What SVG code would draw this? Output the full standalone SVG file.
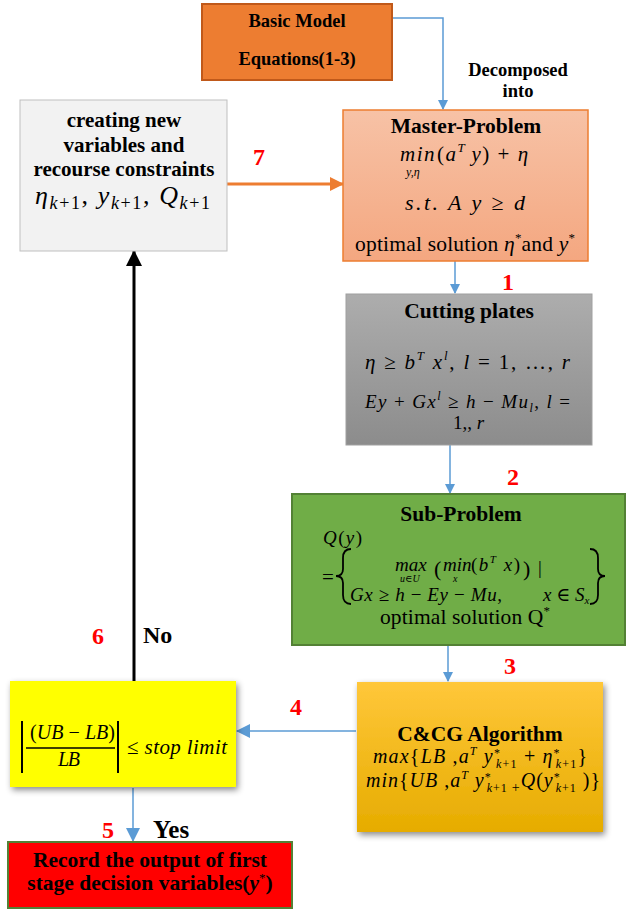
<svg xmlns="http://www.w3.org/2000/svg" width="627" height="910" viewBox="0 0 627 910">
<defs>
<linearGradient id="gMaster" x1="0" y1="0" x2="0" y2="1"><stop offset="0" stop-color="#F7C2A6"/><stop offset="1" stop-color="#F4A780"/></linearGradient>
<linearGradient id="gCut" x1="0" y1="0" x2="0" y2="1"><stop offset="0" stop-color="#ADADAD"/><stop offset="1" stop-color="#8C8C8C"/></linearGradient>
<linearGradient id="gCCG" x1="0" y1="0" x2="0" y2="1"><stop offset="0" stop-color="#FFC73A"/><stop offset="1" stop-color="#E6AC00"/></linearGradient>
<filter id="shadow" x="-10%" y="-10%" width="125%" height="130%"><feDropShadow dx="2" dy="3" stdDeviation="3" flood-color="#000" flood-opacity="0.45"/></filter>
<marker id="aBlue" markerWidth="10" markerHeight="10" refX="9" refY="5" orient="auto" markerUnits="userSpaceOnUse"><path d="M0,0 L10,5 L0,10 Z" fill="#5B9BD5"/></marker>
<marker id="aBlueL" markerWidth="14" markerHeight="14" refX="13" refY="7" orient="auto" markerUnits="userSpaceOnUse"><path d="M0,0 L14,7 L0,14 Z" fill="#5B9BD5"/></marker>
<marker id="aOrange" markerWidth="14" markerHeight="14" refX="13" refY="7" orient="auto" markerUnits="userSpaceOnUse"><path d="M0,0 L14,7 L0,14 Z" fill="#ED7D31"/></marker>
<marker id="aBlack" markerWidth="16" markerHeight="16" refX="15" refY="8" orient="auto" markerUnits="userSpaceOnUse"><path d="M0,0 L16,8 L0,16 Z" fill="#000"/></marker>
</defs>
<style>
.b{font-family:"Liberation Serif","Times New Roman",serif;font-weight:bold;fill:#000}
.t{font-family:"Liberation Serif","Times New Roman",serif;fill:#000}
.m{font-family:"Liberation Serif","DejaVu Serif",serif;font-style:italic;fill:#000}
.up{font-style:normal}
.it{font-style:italic}
.num{font-family:"Liberation Serif","Times New Roman",serif;font-weight:bold;fill:#FF0000;font-size:24px}
.blue{stroke:#5B9BD5;stroke-width:1.5;fill:none}
</style>

<g id="connectors">
<polyline class="blue" points="392,18 443,18 443,109" marker-end="url(#aBlue)"/>
<line class="blue" x1="455" y1="261" x2="455" y2="293" marker-end="url(#aBlue)"/>
<line class="blue" x1="450" y1="445" x2="450" y2="493" marker-end="url(#aBlue)"/>
<line class="blue" x1="448" y1="645" x2="448" y2="681" marker-end="url(#aBlue)"/>
<line class="blue" x1="356" y1="731" x2="237" y2="731" marker-end="url(#aBlueL)"/>
<line class="blue" x1="133" y1="788" x2="133" y2="841" marker-end="url(#aBlueL)"/>
<line x1="227" y1="184" x2="343" y2="184" stroke="#ED7D31" stroke-width="3" marker-end="url(#aOrange)"/>
<line x1="134" y1="681" x2="134" y2="251" stroke="#000" stroke-width="3" marker-end="url(#aBlack)"/>
<text class="b" x="518" y="76" font-size="18.5" text-anchor="middle">Decomposed</text>
<text class="b" x="518" y="97" font-size="18.5" text-anchor="middle">into</text>
<text class="num" x="259" y="165" text-anchor="middle">7</text>
<text class="num" x="508" y="290" text-anchor="middle">1</text>
<text class="num" x="513" y="485" text-anchor="middle">2</text>
<text class="num" x="510" y="674" text-anchor="middle">3</text>
<text class="num" x="296" y="715" text-anchor="middle">4</text>
<text class="num" x="98" y="644" text-anchor="middle">6</text>
<text class="b" x="143" y="643" font-size="24">No</text>
<text class="num" x="108" y="838" text-anchor="middle">5</text>
<text class="b" x="153" y="838" font-size="25">Yes</text>
</g>

<g id="basic-model">
<rect x="202" y="4" width="190" height="76" fill="#ED7D31" stroke="#C0591A" stroke-width="2"/>
<text class="b" x="297" y="27" font-size="18.5" text-anchor="middle">Basic Model</text>
<text class="b" x="297" y="65" font-size="18.5" text-anchor="middle">Equations(1-3)</text>
</g>

<g id="creating">
<rect x="20" y="100" width="207" height="151" fill="#F2F2F2" stroke="#BFBFBF" stroke-width="1"/>
<text class="b" x="124" y="127" font-size="21" text-anchor="middle">creating new</text>
<text class="b" x="124" y="152" font-size="21" text-anchor="middle">variables and</text>
<text class="b" x="124" y="176" font-size="21" text-anchor="middle">recourse constraints</text>
<text class="m" x="35" y="204" font-size="26" textLength="175">η<tspan font-size="18" dy="5">k</tspan><tspan class="up" font-size="18">+1</tspan><tspan dy="-5" class="up">, </tspan>y<tspan font-size="18" dy="5">k</tspan><tspan class="up" font-size="18">+1</tspan><tspan dy="-5" class="up">, </tspan>Q<tspan font-size="18" dy="5">k</tspan><tspan class="up" font-size="18">+1</tspan></text>
</g>

<g id="master-problem">
<rect x="343" y="110" width="245" height="151" fill="url(#gMaster)" stroke="#ED7D31" stroke-width="1.5"/>
<text class="b" x="466" y="133" font-size="21.5" text-anchor="middle">Master-Problem</text>
<text class="m" font-size="21" letter-spacing="1.5"><tspan x="400" y="161">min</tspan><tspan x="406" y="176" font-size="12" letter-spacing="0">y,η</tspan><tspan x="437" y="161" class="up">(</tspan>a<tspan font-size="13" dy="-9" letter-spacing="0">T</tspan><tspan dy="9"> y</tspan><tspan class="up">) + </tspan>η</text>
<text class="m" x="405" y="210" font-size="22" textLength="120">s.t.   A y <tspan class="up">≥</tspan> d</text>
<text class="t" x="355" y="251" font-size="21.5" textLength="220">optimal solution <tspan class="m">η</tspan><tspan font-size="13" dy="-9">*</tspan><tspan dy="9">and </tspan><tspan class="m">y</tspan><tspan font-size="13" dy="-9">*</tspan></text>
</g>

<g id="cutting-plates">
<rect x="346" y="294" width="246" height="151" fill="url(#gCut)" stroke="#A0A0A0" stroke-width="1"/>
<text class="b" x="469" y="318" font-size="21.5" text-anchor="middle">Cutting plates</text>
<text class="m" x="365" y="369" font-size="21" textLength="205">η <tspan class="up">≥</tspan> b<tspan font-size="13" dy="-9">T</tspan><tspan dy="9"> x</tspan><tspan font-size="13" dy="-9">l</tspan><tspan dy="9" class="up">,    </tspan>l <tspan class="up">= 1, …, </tspan>r</text>
<text class="m" font-size="19"><tspan x="365" y="408" textLength="205">Ey <tspan class="up">+ </tspan>Gx<tspan font-size="12" dy="-8">l</tspan><tspan dy="8" class="up"> ≥ </tspan>h <tspan class="up">− </tspan>Mu<tspan font-size="12" dy="4">l</tspan><tspan dy="-4" class="up">,  </tspan>l <tspan class="up">=</tspan></tspan><tspan x="453" y="429" class="up">1,, </tspan>r</text>
</g>

<g id="sub-problem">
<rect x="292" y="494" width="333" height="151" fill="#70AD47" stroke="#538135" stroke-width="2"/>
<text class="b" x="461" y="521" font-size="21.5" text-anchor="middle">Sub-Problem</text>
<text class="m" x="323" y="544" font-size="19" textLength="39">Q<tspan class="up">(</tspan>y<tspan class="up">)</tspan></text>
<text class="t" x="322" y="584" font-size="21">=</text>
<path d="M351,549 Q343,549 343,558 L343,569 Q343,576 336,576 Q343,576 343,583 L343,595 Q343,604 351,604" fill="none" stroke="#000" stroke-width="1.8"/>
<path d="M590,549 Q598,549 598,558 L598,569 Q598,576 605,576 Q598,576 598,583 L598,595 Q598,604 590,604" fill="none" stroke="#000" stroke-width="1.8"/>
<text class="m" font-size="19"><tspan x="395" y="571">max</tspan><tspan x="400" y="582" font-size="10">u<tspan class="up">∈</tspan>U</tspan><tspan x="434" y="576" class="up" font-size="22">(</tspan><tspan x="443" y="571">min</tspan><tspan x="453" y="582" font-size="10">x</tspan><tspan x="471" y="571" textLength="49"><tspan class="up">(</tspan>b<tspan font-size="11" dy="-8">T</tspan><tspan dy="8"> x</tspan><tspan class="up">)</tspan></tspan><tspan x="523" y="576" class="up" font-size="22">)</tspan><tspan x="538" y="574" class="up">|</tspan></text>
<text class="m" font-size="19"><tspan x="350" y="601" textLength="152">Gx <tspan class="up">≥ </tspan>h <tspan class="up">− </tspan>Ey <tspan class="up">− </tspan>Mu<tspan class="up">,</tspan></tspan><tspan x="543" y="601">x <tspan class="up">∈ </tspan>S<tspan font-size="11" dy="3">x</tspan></tspan></text>
<text class="t" x="380" y="624" font-size="21.5" textLength="170">optimal solution Q<tspan font-size="13" dy="-9">*</tspan></text>
</g>

<g id="ccg-algorithm">
<rect x="357" y="682" width="246" height="150" fill="url(#gCCG)" filter="url(#shadow)"/>
<text class="b" x="480" y="741" font-size="21.5" text-anchor="middle">C&amp;CG Algorithm</text>
<text class="m" font-size="20"><tspan x="373" y="763" textLength="214">max<tspan class="up">{</tspan>LB <tspan class="up">,</tspan>a<tspan font-size="12" dy="-8">T</tspan><tspan dy="8"> y</tspan><tspan font-size="12" dy="-6" class="up">*</tspan><tspan font-size="12" dx="-5" dy="11">k</tspan><tspan font-size="12" class="up">+1</tspan><tspan dy="-5" class="up">  +  </tspan>η<tspan font-size="12" dy="-6" class="up">*</tspan><tspan font-size="12" dx="-5" dy="11">k</tspan><tspan font-size="12" class="up">+1</tspan><tspan dy="-5" class="up">}</tspan></tspan><tspan x="366" y="787" textLength="234">min<tspan class="up">{</tspan>UB <tspan class="up">,</tspan>a<tspan font-size="12" dy="-8">T</tspan><tspan dy="8"> y</tspan><tspan font-size="12" dy="-6" class="up">*</tspan><tspan font-size="12" dx="-5" dy="11">k</tspan><tspan font-size="12" class="up">+1 </tspan><tspan font-size="14" class="up">+</tspan><tspan dy="-5">Q</tspan><tspan class="up">(</tspan>y<tspan font-size="12" dy="-6" class="up">*</tspan><tspan font-size="12" dx="-5" dy="11">k</tspan><tspan font-size="12" class="up">+1</tspan><tspan dy="-5" class="up"> )}</tspan></tspan></text>
</g>

<g id="stop-check">
<rect x="10" y="681" width="226" height="106" fill="#FFFF00" filter="url(#shadow)"/>
<line x1="22" y1="721" x2="22" y2="773" stroke="#000" stroke-width="2"/>
<line x1="118" y1="721" x2="118" y2="773" stroke="#000" stroke-width="2"/>
<line x1="26" y1="748" x2="115" y2="748" stroke="#000" stroke-width="1.5"/>
<text class="m" x="30" y="739" font-size="20" textLength="85"><tspan class="up">(</tspan>UB <tspan class="up">− </tspan>LB<tspan class="up">)</tspan></text>
<text class="m" x="58" y="766" font-size="20" textLength="22">LB</text>
<text class="m" x="127" y="754" font-size="21" textLength="100"><tspan class="up">≤ </tspan>stop limit</text>
</g>

<g id="record-output">
<rect x="8" y="842" width="284" height="66" fill="#FF0000" stroke="#538135" stroke-width="2"/>
<text class="b" x="150" y="867" font-size="21.5" text-anchor="middle">Record the output of first</text>
<text class="b" x="150" y="890" font-size="21.5" text-anchor="middle">stage decision variables(<tspan class="m">y</tspan><tspan font-size="13" dy="-8" font-weight="normal">*</tspan><tspan dy="8">)</tspan></text>
</g>
</svg>
